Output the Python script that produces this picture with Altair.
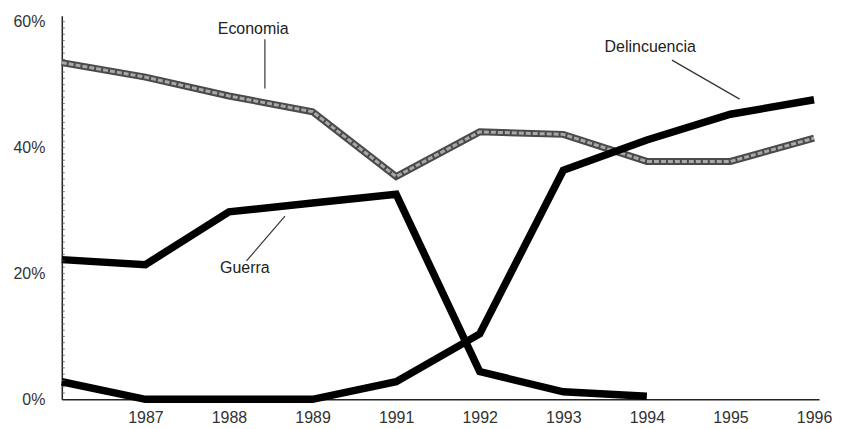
import altair as alt
import pandas as pd

# ---- data ----
idx = [0, 1, 2, 3, 4, 5, 6, 7, 8, 9]
tick_labels = ["", "1987", "1988", "1989", "1991", "1992", "1993", "1994", "1995", "1996"]
economia = [0.535, 0.512, 0.482, 0.457, 0.354, 0.425, 0.421, 0.378, 0.378, 0.415]
guerra = [0.222, 0.214, 0.298, 0.312, 0.326, 0.044, 0.012, 0.005, None, None]
delincuencia = [0.028, 0.0, 0.0, 0.0, 0.028, 0.104, 0.364, 0.412, 0.453, 0.476]
y_labels = [0.0, 0.2, 0.4, 0.6]
y_minor = [k / 100 for k in range(1, 61)]

ann_names = ["Economia", "Delincuencia", "Guerra"]
ann_tx = [2.29, 7.04, 2.19]
ann_ty = [0.588, 0.560, 0.208]
ann_x1 = [2.43, 7.30, 2.21]
ann_y1 = [0.572, 0.539, 0.220]
ann_x2 = [2.43, 8.11, 2.67]
ann_y2 = [0.494, 0.477, 0.291]

rows = []
for i, e, g, d in zip(idx, economia, guerra, delincuencia):
    rows.append({"i": i, "serie": "Economia", "v": e})
    if g is not None:
        rows.append({"i": i, "serie": "Guerra", "v": g})
    rows.append({"i": i, "serie": "Delincuencia", "v": d})
df = pd.DataFrame(rows)
ann = pd.DataFrame({"name": ann_names, "tx": ann_tx, "ty": ann_ty,
                    "x1": ann_x1, "y1": ann_y1, "x2": ann_x2, "y2": ann_y2})
minor = pd.DataFrame({"m": y_minor})

FONT = "Liberation Sans, Arial, sans-serif"

label_expr = "[" + ",".join("'%s'" % t for t in tick_labels) + "][round(datum.value)]"

xs = alt.Scale(domain=[0, 9.06], nice=False, zero=False)
ys = alt.Scale(domain=[0, 0.6095], nice=False)

x_axis = alt.Axis(values=idx[1:], labelExpr=label_expr, ticks=False, grid=False,
                  domainColor="#222", domainWidth=1.5, labelFont=FONT, labelFontSize=16,
                  labelColor="#333", labelPadding=10, labelOverlap=False, title=None)
y_axis = alt.Axis(values=y_labels, format=".0%",
                  ticks=False, grid=False,
                  domainColor="#222", domainWidth=1.5, labelFont=FONT, labelFontSize=16,
                  labelColor="#333", labelPadding=17, labelOverlap=False, title=None)

base = alt.Chart(df)

eco_outer = base.transform_filter(alt.datum.serie == "Economia").mark_line(
    color="#4a4a4a", strokeWidth=7).encode(
    x=alt.X("i:Q", scale=xs, axis=x_axis), y=alt.Y("v:Q", scale=ys, axis=y_axis))
eco_inner = base.transform_filter(alt.datum.serie == "Economia").mark_line(
    color="#a8a8a8", strokeWidth=3, strokeDash=[5, 2]).encode(
    x=alt.X("i:Q", scale=xs), y=alt.Y("v:Q", scale=ys))
black = base.transform_filter(alt.datum.serie != "Economia").mark_line(
    color="#000", strokeWidth=7.5).encode(
    x=alt.X("i:Q", scale=xs), y=alt.Y("v:Q", scale=ys), detail="serie:N")

minor_ticks = alt.Chart(minor).mark_rule(color="#555", strokeWidth=0.8).encode(
    x=alt.value(0), x2=alt.value(3), y=alt.Y("m:Q", scale=ys))

leaders = alt.Chart(ann).mark_rule(color="#333", strokeWidth=1.2).encode(
    x=alt.X("x1:Q", scale=xs), y=alt.Y("y1:Q", scale=ys), x2="x2:Q", y2="y2:Q")
labels = alt.Chart(ann).mark_text(font=FONT, fontSize=16, color="#222", align="center",
                                  baseline="middle").encode(
    x=alt.X("tx:Q", scale=xs), y=alt.Y("ty:Q", scale=ys), text="name:N")

chart = alt.layer(eco_outer, eco_inner, black, minor_ticks, leaders, labels).properties(
    width=760, height=385,
    autosize=alt.AutoSizeParams(type="none"),
    padding={"left": 54, "top": 7, "right": 14, "bottom": 30},
).configure(background="white").configure_view(stroke=None, strokeWidth=0)

chart.save("out.html", embed_options={"renderer": "svg", "actions": False})
